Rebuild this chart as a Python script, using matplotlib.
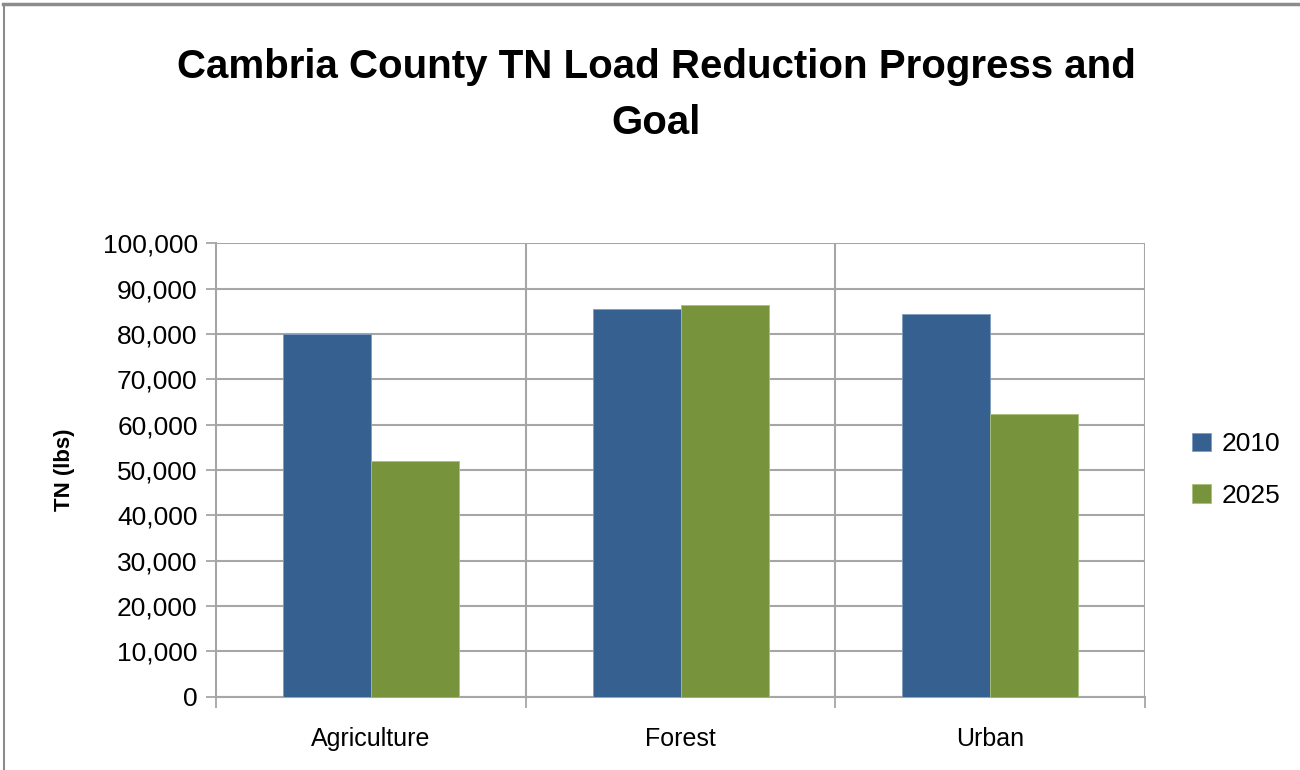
import matplotlib
matplotlib.use("Agg")
import matplotlib.pyplot as plt
import matplotlib.lines as mlines
import numpy as np
from matplotlib.ticker import FuncFormatter, MultipleLocator

# --- data ---
categories = ["Agriculture", "Forest", "Urban"]
series_names = ["2010", "2025"]
tn_2010 = [79900, 85500, 84400]
tn_2025 = [52100, 86300, 62300]
colors = ["#36608F", "#77933C"]

plt.rcParams["font.family"] = ["Liberation Sans", "DejaVu Sans"]

fig = plt.figure(figsize=(13, 7.7), dpi=100)
ax = fig.add_axes([0.166, 0.095, 0.715, 0.589])

x = np.arange(len(categories))
width = 0.284
grid_color = "#A6A6A6"

ax.bar(x - width / 2, tn_2010, width, color=colors[0], edgecolor="#7F9CC0",
       linewidth=0.6, label=series_names[0], zorder=3)
ax.bar(x + width / 2, tn_2025, width, color=colors[1], edgecolor="#A8C07A",
       linewidth=0.6, label=series_names[1], zorder=3)

ax.set_xlim(-0.5, len(categories) - 0.5)
ax.set_ylim(0, 100000)
ax.yaxis.set_major_locator(MultipleLocator(10000))
ax.yaxis.set_major_formatter(FuncFormatter(lambda v, p: f"{int(v):,}"))

# horizontal gridlines + vertical lines at category boundaries (Excel style)
ax.grid(axis="y", color=grid_color, linewidth=1.5, zorder=0)
for b in np.arange(0.5, len(categories) - 0.4, 1.0):
    ax.axvline(b, color=grid_color, linewidth=1.5, zorder=0)

ax.set_xticks(x)
ax.set_xticklabels(categories, fontsize=18)
ax.set_xticks(np.arange(-0.5, len(categories), 1.0), minor=True)
ax.tick_params(axis="x", which="major", length=0, pad=22)
ax.tick_params(axis="x", which="minor", length=8, width=1.3, color=grid_color,
               direction="out")
ax.tick_params(axis="y", labelsize=19, length=7, width=1.3, color=grid_color,
               direction="out", pad=6)

for side in ["top", "right"]:
    ax.spines[side].set_visible(False)
for side in ["left", "bottom"]:
    ax.spines[side].set_color(grid_color)
    ax.spines[side].set_linewidth(1.5)

ax.set_ylabel("TN (lbs)", fontsize=16, fontweight="bold", labelpad=20)

fig.suptitle("Cambria County TN Load Reduction Progress and\nGoal",
             x=0.505, y=0.877, va="center", fontsize=29, fontweight="bold",
             linespacing=1.6)

ax.legend(loc="center left", bbox_to_anchor=(1.025, 0.5), frameon=False,
          fontsize=19, handlelength=0.7, handleheight=0.7,
          handletextpad=0.4, labelspacing=1.05)

# outer chart border (top and left visible in the reference)
fig.add_artist(mlines.Line2D([0.002, 1.0], [0.995, 0.995], color="#8C8C8C",
                             linewidth=2.5, transform=fig.transFigure))
fig.add_artist(mlines.Line2D([0.003, 0.003], [0.0, 0.995], color="#8C8C8C",
                             linewidth=1.5, transform=fig.transFigure))

fig.savefig("out.png", dpi=100)
